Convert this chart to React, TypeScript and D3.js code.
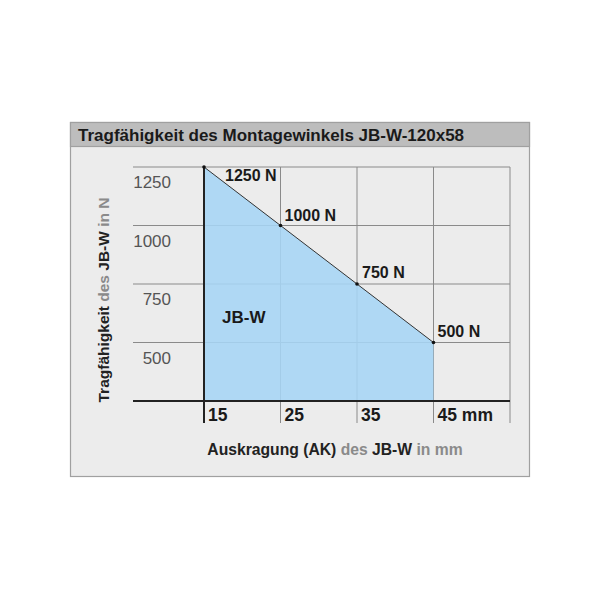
import React from "react";
import * as d3 from "d3";

const xTicks = [15, 25, 35, 45];
const xTickLabels = ["15", "25", "35", "45 mm"];
const yTicks = [500, 750, 1000, 1250];
const yTickLabels = ["500", "750", "1000", "1250"];
const pointsX = [15, 25, 35, 45];
const pointsY = [1250, 1000, 750, 500];
const pointLabels = ["1250 N", "1000 N", "750 N", "500 N"];
const title = "Tragfähigkeit des Montagewinkels JB-W-120x58";
const seriesName = "JB-W";

const FONT = "'Liberation Sans', Arial, Helvetica, sans-serif";

export default function App() {
  const x = d3.scaleLinear().domain([15, 55]).range([204, 510]);
  const y = d3.scaleLinear().domain([250, 1250]).range([401, 167]);
  const gridLeft = 133;

  const area = d3
    .area<number>()
    .x((_, i) => x(pointsX[i]))
    .y0(() => y(250))
    .y1((d) => y(d));
  const line = d3
    .line<number>()
    .x((_, i) => x(pointsX[i]))
    .y((d) => y(d));

  const vLines = [25, 35, 45, 55];
  const labelOffsets = [
    [21, 14],
    [4, -5],
    [5, -6],
    [4, -6],
  ];

  return (
    <svg width={600} height={600} style={{ display: "block", position: "absolute", left: 0, top: 0 }}>
      <rect x={0} y={0} width={600} height={600} fill="#ffffff" />
      <rect x={70.5} y={122.5} width={459} height={354} fill="#ececec" stroke="#a0a0a0" strokeWidth={1.2} />
      <rect x={70.5} y={122.5} width={459} height={24} fill="#bdbdbd" stroke="#a0a0a0" strokeWidth={1.2} />
      <text x={78} y={141} fontFamily={FONT} fontWeight="bold" fontSize={17} fill="#1a1a1a">
        {title}
      </text>

      {/* horizontal grid */}
      {yTicks.map((t) => (
        <line key={"h" + t} x1={gridLeft} x2={510} y1={y(t)} y2={y(t)} stroke="#8a8a8a" strokeWidth={1} />
      ))}
      {/* vertical grid */}
      {vLines.map((t) => (
        <line key={"v" + t} x1={x(t)} x2={x(t)} y1={y(1250)} y2={423} stroke="#8a8a8a" strokeWidth={1} />
      ))}

      <path d={area(pointsY) || ""} fill="#a6d5f5" fillOpacity={0.88} />

      {/* axes */}
      <line x1={gridLeft} x2={510} y1={y(250)} y2={y(250)} stroke="#222" strokeWidth={2} />
      <line x1={x(15)} x2={x(15)} y1={y(1250)} y2={423} stroke="#222" strokeWidth={2} />

      <path d={line(pointsY) || ""} fill="none" stroke="#333" strokeWidth={1} />
      {pointsY.map((v, i) => (
        <circle key={"p" + i} cx={x(pointsX[i])} cy={y(v)} r={1.8} fill="#111" />
      ))}
      {pointsY.map((v, i) => (
        <text
          key={"pl" + i}
          x={x(pointsX[i]) + labelOffsets[i][0]}
          y={y(v) + labelOffsets[i][1]}
          fontFamily={FONT}
          fontWeight="bold"
          fontSize={16}
          fill="#1a1a1a"
        >
          {pointLabels[i]}
        </text>
      ))}

      <text x={222} y={323} fontFamily={FONT} fontWeight="bold" fontSize={17} fill="#1a1a1a">
        {seriesName}
      </text>

      {yTicks.map((t, i) => (
        <text key={"yt" + t} x={171} y={y(t) + 21} textAnchor="end" fontFamily={FONT} fontSize={17} fill="#555">
          {yTickLabels[i]}
        </text>
      ))}
      {xTicks.map((t, i) => (
        <text key={"xt" + t} x={x(t) + 4} y={421} fontFamily={FONT} fontWeight="bold" fontSize={17.5} fill="#1a1a1a">
          {xTickLabels[i]}
        </text>
      ))}

      <text x={335} y={455} textAnchor="middle" fontFamily={FONT} fontWeight="bold" fontSize={15.7} fill="#222">
        <tspan>Auskragung (AK) </tspan>
        <tspan fill="#8a8a8a">des </tspan>
        <tspan>JB-W </tspan>
        <tspan fill="#8a8a8a">in mm</tspan>
      </text>

      <text
        transform={`translate(109, 300) rotate(-90)`}
        textAnchor="middle"
        fontFamily={FONT}
        fontWeight="bold"
        fontSize={15.5}
        fill="#222"
      >
        <tspan>Tragfähigkeit </tspan>
        <tspan fill="#8a8a8a">des </tspan>
        <tspan>JB-W </tspan>
        <tspan fill="#8a8a8a">in N</tspan>
      </text>
    </svg>
  );
}
